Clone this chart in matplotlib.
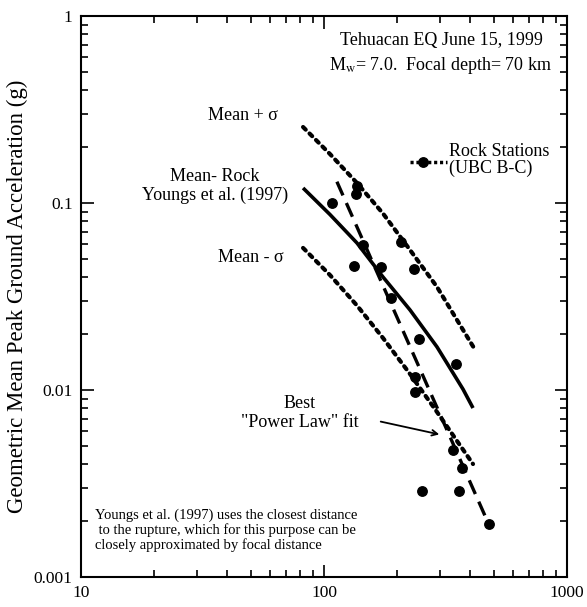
import matplotlib
matplotlib.use("Agg")
import matplotlib.pyplot as plt
from matplotlib.ticker import FuncFormatter, LogLocator

plt.rcParams['font.family'] = ['Liberation Serif', 'DejaVu Serif']
plt.rcParams['mathtext.fontset'] = 'stix'

# recorded rock stations (focal distance km, PGA g)
dist_obs = [107.6, 136.7, 135.4, 144.3, 132.9, 171.6, 208.4, 235.7, 187.8,
            246.7, 350.3, 237.9, 237.9, 339.6, 369.8, 253.8, 358.4, 476.1]
pga_obs = [0.0996, 0.1233, 0.1117, 0.0596, 0.0463, 0.0455, 0.0621, 0.0442, 0.0309,
           0.01885, 0.01372, 0.01178, 0.00976, 0.00478, 0.00385, 0.00287, 0.00287, 0.00192]

# Youngs et al. (1997) rock mean and +/- sigma
dist_mean = [82.0, 105.8, 136.7, 174.9, 225.9, 291.7, 373.3, 410.4]
pga_mean = [0.1203, 0.0868, 0.0611, 0.0402, 0.0268, 0.0170, 0.0101, 0.00801]
dist_plus = [82.0, 105.8, 136.7, 174.9, 225.9, 291.7, 414.3]
pga_plus = [0.2549, 0.1828, 0.1279, 0.0879, 0.0561, 0.0356, 0.01677]
dist_minus = [82.0, 105.8, 136.7, 174.9, 225.9, 291.7, 352.6, 410.4]
pga_minus = [0.0575, 0.0412, 0.0283, 0.01897, 0.01218, 0.00763, 0.00534, 0.00402]

# best power law fit (end points)
dist_fit = [113, 476]
pga_fit = [0.130, 0.00192]

W, H = 587, 607
fig = plt.figure(figsize=(W / 100, H / 100), dpi=100)
L, R, T, B = 81, 567, 16, 577
ax = fig.add_axes([L / W, 1 - B / H, (R - L) / W, (B - T) / H])


def pos(px, py):
    # pixel position in the figure -> axes fraction
    return (px - L) / (R - L), (B - py) / (B - T)


dots = (0, (0.9, 1.3))
ax.plot(dist_plus, pga_plus, color='black', lw=3, linestyle=dots, dash_capstyle='round')
ax.plot(dist_minus, pga_minus, color='black', lw=3, linestyle=dots, dash_capstyle='round')
ax.plot(dist_mean, pga_mean, color='black', lw=2.6, solid_capstyle='butt',
        solid_joinstyle='round')
ax.plot(dist_fit, pga_fit, color='black', lw=2.4, linestyle=(0, (4.5, 2.5)))
ax.plot(dist_obs, pga_obs, 'o', color='black', markersize=6.8, linestyle='none')

# legend sample
x0, y0 = pos(410, 162)
x1, _ = pos(447, 162)
xm, _ = pos(423, 162)
ax.plot([x0, x1], [y0, y0], transform=ax.transAxes, color='black', lw=2.5,
        linestyle=(0, (0.9, 0.8)), clip_on=False)
ax.plot([xm], [y0], 'o', transform=ax.transAxes, color='black', markersize=6.8)
ax.text(*pos(449, 160), 'Rock Stations\n(UBC B-C)', transform=ax.transAxes,
        ha='left', va='center', fontsize=13, linespacing=1.05)

ax.text(*pos(441, 40), 'Tehuacan EQ June 15, 1999', transform=ax.transAxes,
        ha='center', va='center', fontsize=13)
ax.text(*pos(441, 66), r'M$_{\mathrm{w}}$= 7.0.  Focal depth= 70 km', transform=ax.transAxes,
        ha='center', va='center', fontsize=13)

ax.text(*pos(243, 115), 'Mean + σ', transform=ax.transAxes,
        ha='center', va='center', fontsize=13)
ax.text(*pos(215, 186), 'Mean- Rock\nYoungs et al. (1997)', transform=ax.transAxes,
        ha='center', va='center', fontsize=13, linespacing=1.1)
ax.text(*pos(251, 258), 'Mean - σ', transform=ax.transAxes,
        ha='center', va='center', fontsize=13)
ax.text(*pos(300, 413), 'Best\n"Power Law" fit', transform=ax.transAxes,
        ha='center', va='center', fontsize=13, linespacing=1.15)
ax.annotate('', xy=pos(442, 435), xytext=pos(378, 421),
            xycoords='axes fraction', textcoords='axes fraction',
            arrowprops=dict(arrowstyle='->', color='black', lw=1.3))

ax.text(*pos(95, 530), 'Youngs et al. (1997) uses the closest distance\n'
        ' to the rupture, which for this purpose can be\n'
        'closely approximated by focal distance',
        transform=ax.transAxes, ha='left', va='center', fontsize=10.5, linespacing=1.1)

ax.set_xscale('log')
ax.set_yscale('log')
ax.set_xlim(10, 1000)
ax.set_ylim(0.001, 1)
fmt = FuncFormatter(lambda v, p: '%g' % v)
ax.xaxis.set_major_formatter(fmt)
ax.yaxis.set_major_formatter(fmt)
ax.xaxis.set_minor_locator(LogLocator(base=10, subs=range(2, 10)))
ax.yaxis.set_minor_locator(LogLocator(base=10, subs=range(2, 10)))
ax.xaxis.set_minor_formatter(plt.NullFormatter())
ax.yaxis.set_minor_formatter(plt.NullFormatter())
ax.tick_params(which='both', direction='in', top=True, right=True, labelsize=12.5, width=1.2)
ax.tick_params(which='major', length=9, pad=6)
ax.tick_params(which='minor', length=5)
for s in ax.spines.values():
    s.set_linewidth(1.5)

ax.set_ylabel('Geometric Mean Peak Ground Acceleration (g)', fontsize=16.5, labelpad=4)

fig.savefig('out.png', dpi=100)
